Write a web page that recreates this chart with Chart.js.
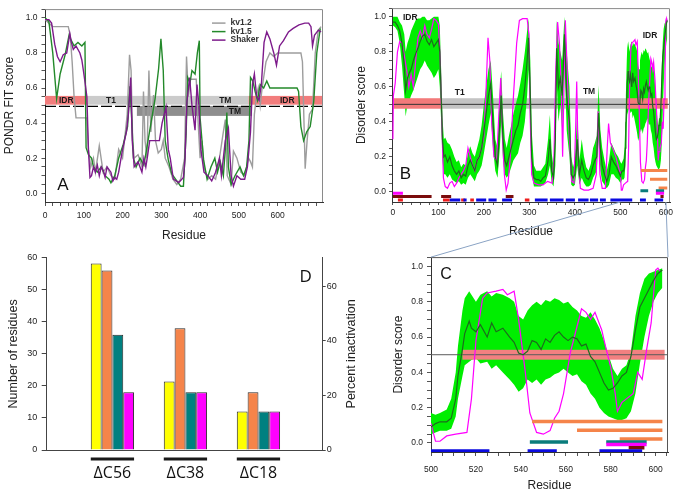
<!DOCTYPE html>
<html>
<head>
<meta charset="utf-8">
<title>Kv channel disorder profiles</title>
<script src="https://cdn.jsdelivr.net/npm/chart.js@4.4.1/dist/chart.umd.min.js"></script>
<style>
  html, body { margin: 0; padding: 0; background: #fff; }
  #page { position: relative; width: 679px; height: 496px; overflow: hidden; }
  .panel { position: absolute; }
  #overlay { position: absolute; left: 0; top: 0; pointer-events: none; }
</style>
</head>
<body>
<div id="page">
  <div class="panel" style="left:0;top:0;width:340px;height:248px"><canvas id="chartA"></canvas></div>
  <div class="panel" style="left:340px;top:0;width:339px;height:248px"><canvas id="chartB"></canvas></div>
  <div class="panel" style="left:0;top:248px;width:370px;height:248px"><canvas id="chartD"></canvas></div>
  <div class="panel" style="left:340px;top:248px;width:339px;height:248px"><canvas id="chartC"></canvas></div>
  <canvas id="overlay" width="679" height="496"></canvas>
</div>
<script>
// ---- panel A : PONDR FIT profiles ----
var kv12Res = [0,10,20,60,65,70,75,80,108,112,
	118,125,130,140,150,160,170,180,190,200,
	205,212,218,222,226,230,240,250,254,258,
	263,268,273,280,285,292,300,305,310,320,
	330,340,350,360,365,370,375,390,395,400,
	405,410,420,430,440,450,460,465,470,480,
	486,495,505,515,520,525,530,535,540,545,
	550,555,560,570,580,590,600,660,664,668,
	671,676,682,690,697,705,712];
var kv12Val = [0.99,0.97,0.95,0.95,0.90,0.75,0.55,0.43,0.43,0.25,
	0.15,0.20,0.12,0.27,0.12,0.15,0.10,0.08,0.25,0.20,
	0.30,0.45,0.79,0.70,0.30,0.20,0.22,0.15,0.58,0.30,
	0.20,0.70,0.35,0.56,0.30,0.23,0.25,0.30,0.20,0.15,
	0.08,0.05,0.08,0.20,0.78,0.55,0.65,0.65,0.40,0.20,
	0.30,0.15,0.08,0.10,0.08,0.20,0.35,0.42,0.10,0.05,
	0.24,0.20,0.12,0.10,0.15,0.20,0.18,0.15,0.45,0.55,
	0.60,0.50,0.60,0.75,0.80,0.78,0.80,0.80,0.75,0.40,
	0.14,0.30,0.45,0.48,0.80,0.93,0.95];

var kv15Res = [0,10,20,30,39,52,62,68,75,85,
	95,103,106,112,120,125,135,145,155,165,
	170,180,190,202,213,219,224,228,235,245,
	255,262,271,284,293,299,305,310,318,327,
	340,350,357,364,368,374,379,387,393,398,
	400,409,418,428,438,445,452,460,465,469,
	473,480,490,503,512,520,526,530,536,542,
	548,555,564,572,580,650,654,660,667,675,
	684,693,701,710];
var kv15Val = [1.00,0.98,0.80,0.54,0.68,0.79,0.90,0.87,0.84,0.86,
	0.84,0.86,0.26,0.22,0.20,0.15,0.12,0.15,0.10,0.08,
	0.06,0.10,0.20,0.28,0.38,0.61,0.41,0.20,0.15,0.20,
	0.16,0.25,0.37,0.54,0.71,0.88,0.70,0.30,0.19,0.11,
	0.07,0.04,0.04,0.34,0.66,0.63,0.70,0.68,0.80,0.87,
	0.43,0.19,0.08,0.15,0.20,0.12,0.18,0.10,0.25,0.46,
	0.15,0.05,0.10,0.15,0.10,0.15,0.30,0.66,0.64,0.58,
	0.53,0.62,0.60,0.64,0.60,0.60,0.58,0.38,0.30,0.35,
	0.38,0.52,0.80,0.94];

var shakerRes = [0,10,17,25,32,39,47,56,64,68,
	73,80,90,95,99,104,108,112,116,120,
	125,130,135,140,145,150,155,160,170,175,
	180,185,190,200,210,215,221,225,230,240,
	250,255,260,265,270,295,302,312,318,323,
	331,345,357,361,366,373,379,387,392,397,
	402,410,420,430,440,450,455,465,473,480,
	486,495,505,515,522,530,535,540,546,552,
	558,565,572,580,590,597,605,615,628,640,
	655,670,680,686,690,695,705,712];
var shakerVal = [0.99,0.99,0.97,0.85,0.78,0.75,0.79,0.80,0.91,0.86,
	0.82,0.84,0.80,0.76,0.70,0.62,0.55,0.25,0.09,0.10,
	0.15,0.12,0.16,0.10,0.15,0.13,0.09,0.15,0.12,0.07,
	0.09,0.08,0.12,0.25,0.35,0.45,0.66,0.30,0.15,0.18,
	0.12,0.20,0.15,0.22,0.30,0.30,0.40,0.49,0.25,0.20,
	0.08,0.06,0.09,0.19,0.52,0.66,0.50,0.36,0.62,0.50,
	0.25,0.12,0.10,0.07,0.12,0.20,0.10,0.30,0.37,0.10,
	0.04,0.10,0.08,0.08,0.15,0.35,0.62,0.68,0.55,0.53,
	0.62,0.86,0.92,0.88,0.80,0.73,0.84,0.87,0.92,0.94,
	0.96,0.97,0.97,0.95,0.84,0.90,0.93,0.92];

// domain spans (residues) for panel A
var domainIdrA = [[0,109],[525,717]];
var domainCoreA = [[109,525]];
var domainTmA = [[237,534]];

// ---- panels B and C : disorder consensus ----
var bandRes = [0,5,10,15,20,25,28,32,36,40,
	45,50,55,60,65,70,75,80,85,90,
	95,100,103,106,109,112,115,120,125,130,
	135,140,145,150,155,160,165,170,175,180,
	185,190,195,200,205,210,215,220,225,230,
	235,238,242,246,250,255,260,265,270,275,
	280,285,290,295,298,302,305,310,315,320,
	325,330,335,341,345,349,353,357,360,364,
	368,372,377,382,388,392,396,400,405,410,
	415,420,425,430,435,440,444,448,452,456,
	460,465,470,475,480,485,490,495,
	500,502,504,507,509,511,512,514,515,517,
	518,520,522,525,527,529,532,535,537,539,
	541,543,545,547,549,551,553,555,557,559,
	561,563,565,567,569,571,573,575,577,579,
	581,583,585,587,589,591,593,595,597,599,
	601,603];
var bandMean = [0.97,0.97,0.95,0.92,0.85,0.72,0.58,0.65,0.68,0.70,
	0.75,0.79,0.82,0.86,0.89,0.90,0.86,0.84,0.87,0.83,
	0.85,0.87,0.80,0.55,0.30,0.20,0.21,0.17,0.20,0.15,
	0.12,0.10,0.12,0.08,0.10,0.09,0.15,0.18,0.15,0.12,
	0.18,0.20,0.25,0.35,0.45,0.55,0.62,0.40,0.20,0.15,
	0.40,0.55,0.30,0.18,0.15,0.20,0.25,0.30,0.35,0.38,
	0.45,0.50,0.60,0.75,0.88,0.55,0.20,0.08,0.07,0.07,
	0.06,0.08,0.09,0.18,0.30,0.12,0.08,0.30,0.82,0.60,
	0.65,0.55,0.90,0.55,0.40,0.10,0.08,0.10,0.30,0.10,
	0.18,0.12,0.08,0.07,0.10,0.15,0.18,0.20,0.45,0.25,
	0.15,0.10,0.06,0.10,0.20,0.17,0.15,0.12,
	0.09,0.11,0.12,0.12,0.14,0.25,0.38,0.53,0.62,0.69,
	0.65,0.63,0.67,0.60,0.68,0.63,0.65,0.60,0.57,0.51,
	0.50,0.52,0.58,0.57,0.53,0.59,0.57,0.61,0.63,0.60,
	0.58,0.60,0.59,0.55,0.56,0.49,0.46,0.40,0.34,0.30,
	0.31,0.34,0.38,0.40,0.49,0.64,0.77,0.82,0.87,0.92,
	0.96,0.98];
var bandLow = [0.95,0.94,0.92,0.85,0.72,0.55,0.43,0.50,0.52,0.55,
	0.58,0.62,0.66,0.70,0.72,0.75,0.72,0.70,0.68,0.65,
	0.67,0.70,0.60,0.40,0.18,0.10,0.10,0.08,0.10,0.07,
	0.06,0.05,0.06,0.04,0.05,0.04,0.08,0.10,0.08,0.06,
	0.10,0.12,0.15,0.22,0.30,0.38,0.45,0.25,0.12,0.08,
	0.25,0.40,0.18,0.10,0.08,0.10,0.14,0.18,0.20,0.22,
	0.28,0.32,0.40,0.55,0.70,0.35,0.10,0.03,0.03,0.03,
	0.03,0.04,0.05,0.10,0.15,0.05,0.03,0.15,0.62,0.40,
	0.50,0.35,0.75,0.35,0.20,0.04,0.03,0.04,0.15,0.04,
	0.08,0.05,0.03,0.03,0.04,0.08,0.10,0.12,0.30,0.12,
	0.06,0.04,0.02,0.04,0.10,0.10,0.08,0.07,
	0.05,0.06,0.07,0.07,0.08,0.15,0.25,0.38,0.44,0.46,
	0.47,0.48,0.45,0.46,0.42,0.44,0.40,0.36,0.33,0.29,
	0.31,0.36,0.34,0.36,0.33,0.36,0.37,0.39,0.40,0.42,
	0.40,0.38,0.39,0.35,0.33,0.28,0.25,0.20,0.17,0.15,
	0.14,0.13,0.13,0.14,0.18,0.28,0.45,0.60,0.72,0.80,
	0.85,0.88];
var bandHigh = [1.00,1.00,1.00,0.97,0.95,0.90,0.80,0.85,0.88,0.92,
	0.95,0.98,0.99,0.99,1.00,1.00,0.98,0.98,0.99,1.00,
	1.00,1.00,0.95,0.70,0.42,0.30,0.31,0.28,0.27,0.24,
	0.20,0.17,0.18,0.14,0.16,0.15,0.22,0.26,0.22,0.20,
	0.25,0.30,0.38,0.50,0.60,0.70,0.75,0.55,0.30,0.25,
	0.58,0.69,0.45,0.30,0.25,0.32,0.38,0.45,0.50,0.55,
	0.62,0.70,0.80,0.92,0.99,0.75,0.35,0.15,0.12,0.12,
	0.12,0.14,0.16,0.30,0.44,0.22,0.14,0.50,0.98,0.85,
	0.80,0.75,1.00,0.80,0.60,0.20,0.14,0.18,0.46,0.18,
	0.30,0.20,0.14,0.12,0.16,0.25,0.28,0.32,0.61,0.35,
	0.25,0.18,0.12,0.18,0.28,0.25,0.22,0.20,
	0.17,0.16,0.17,0.19,0.25,0.40,0.55,0.75,0.82,0.86,
	0.84,0.80,0.84,0.86,0.83,0.85,0.84,0.82,0.80,0.72,
	0.70,0.75,0.78,0.80,0.78,0.81,0.80,0.82,0.81,0.79,
	0.80,0.77,0.75,0.72,0.71,0.74,0.70,0.65,0.58,0.50,
	0.42,0.38,0.42,0.44,0.52,0.72,0.85,0.93,0.96,0.97,
	0.98,0.99];

var magRes = [0,1,5,10,15,20,25,30,35,40,
	45,50,55,60,65,70,75,80,85,90,
	95,100,104,108,111,115,120,125,130,135,
	140,145,150,155,160,165,170,175,180,185,
	190,195,200,205,209,213,217,222,228,233,
	237,241,245,249,253,258,265,272,278,285,
	295,299,302,305,310,320,330,340,350,354,
	358,362,366,370,373,376,379,383,388,393,
	398,402,404,407,412,420,430,440,447,451,
	455,460,467,471,474,478,483,490,495,498,
	500,502,504,507,511,516,518,520,523,525,
	529,532,534,537,539,542,544,547,550,553,
	555,557,559,562,565,567,569,571,573,576,
	578,580,582,583,585,587,590,592,594,596,
	598,600,601,602];
var magVal = [0.30,0.55,0.62,0.80,0.86,0.85,0.78,0.70,0.60,0.67,
	0.60,0.75,0.88,0.92,0.88,0.95,0.90,0.88,0.93,0.99,
	0.98,0.96,0.75,0.35,0.08,0.03,0.02,0.05,0.06,0.03,
	0.05,0.08,0.10,0.12,0.15,0.25,0.20,0.15,0.12,0.18,
	0.20,0.25,0.32,0.60,0.88,0.75,0.40,0.20,0.18,0.45,
	0.65,0.30,0.10,0.01,0.05,0.20,0.55,0.85,0.98,0.99,
	0.99,0.90,0.40,0.10,0.05,0.04,0.04,0.06,0.05,0.20,
	0.70,0.97,0.85,0.60,0.20,0.60,0.98,0.70,0.30,0.06,
	0.05,0.40,0.63,0.20,0.02,0.01,0.01,0.02,0.10,0.46,
	0.10,0.02,0.02,0.25,0.39,0.28,0.25,0.20,0.15,0.12,
	0.11,0.01,0.01,0.04,0.05,0.06,0.25,0.58,0.82,0.85,
	0.86,0.87,0.84,0.86,0.70,0.40,0.17,0.06,0.05,0.07,
	0.14,0.18,0.28,0.51,0.66,0.76,0.74,0.70,0.74,0.64,
	0.53,0.43,0.28,0.18,0.23,0.25,0.28,0.40,0.36,0.53,
	0.68,0.98,0.99,0.97];

// annotated residue ranges drawn as tracks under the profile
var blueRanges = [[125,148],[155,162],[183,205],[210,228],[240,262],[312,340],[345,375],[380,400],
	[407,430],[433,451],[455,468],[478,526],[543,556],[575,594]];
var redRanges = [[11,22],[110,125],[150,158],[170,178],[290,300]];
var maroonRanges = [[0,85],[106,128],[248,265],[588,595]];
var magentaRanges = [[0,22],[578,596]];
var tealRanges = [[544,561],[578,596]];
var orangeRanges = [[545,603],[565,603],[584,603]];

var domainIdrB = [[0,106],[514,604]];
var domainCoreB = [[106,514]];

// ---- panel D ----
var groups = ['\u0394C56', '\u0394C38', '\u0394C18'];
var yellowVals = [58.2, 21.4, 12];
var orangeVals = [56, 38, 18];
var tealVals = [36, 18, 12];
var magentaVals = [18, 18, 12];

Chart.defaults.font.family = "'Liberation Sans', Arial, sans-serif";
Chart.defaults.color = '#222';

function steps(a, b, s) {
	var out = [];
	for (var v = a; v <= b + 1e-9; v += s) out.push({ value: Math.round(v * 1000) / 1000 });
	return out;
}
function pts(res, val) {
	return res.map(function (r, i) { return { x: r, y: val[i] }; });
}
function trackPts(ranges, level) {
	var out = [];
	ranges.forEach(function (r) {
		out.push({ x: r[0], y: level }, { x: r[1], y: level }, { x: r[1], y: null });
	});
	return out;
}
function scoreLabel(v) {
	var k = Math.round(v * 100);
	return (k >= 0 && k % 20 === 0) ? (k / 100).toFixed(1) : '';
}

function residueAxis(o) {
	return {
		type: 'linear', min: o.min, max: o.max,
		afterBuildTicks: function (s) { s.ticks = steps(o.t0, o.t1, o.step); },
		afterFit: function (s) { s.height = o.h; },
		ticks: {
			autoSkip: false, maxRotation: 0, font: { size: 8.5 }, color: '#222', padding: o.pad,
			callback: function (v) { return (v % o.every === 0 && v <= o.last) ? v : ''; }
		},
		grid: { drawOnChartArea: false, tickLength: o.tl, color: '#555' },
		border: { color: '#333' },
		title: { display: true, text: 'Residue', font: { size: 12 }, color: '#222', padding: { top: 0, bottom: o.tpad } }
	};
}
function scoreAxis(o) {
	return {
		type: 'linear', min: o.min, max: o.max,
		afterBuildTicks: function (s) { s.ticks = steps(0, 1.05, 0.05); },
		afterFit: function (s) { s.width = o.w; },
		ticks: { autoSkip: false, font: { size: 8.5 }, color: '#222', padding: o.pad, callback: scoreLabel },
		grid: { drawOnChartArea: false, tickLength: o.tl, color: '#555' },
		border: { color: '#333' },
		title: { display: true, text: o.title, font: { size: 12 }, color: '#222', padding: { top: o.tpad, bottom: 0 } }
	};
}

function line(label, data, color, width, order) {
	return { label: label, data: data, borderColor: color, backgroundColor: color, borderWidth: width,
		pointRadius: 0, tension: 0, fill: false, order: order };
}

// shared helpers for drawing on a chart
function fillSpans(chart, ranges, lo, hi, color) {
	var x = chart.scales.x, y = chart.scales.y, ctx = chart.ctx;
	ranges.forEach(function (r) {
		var x0 = x.getPixelForValue(r[0]), x1 = x.getPixelForValue(r[1]);
		var y0 = y.getPixelForValue(hi), y1 = y.getPixelForValue(lo);
		ctx.fillStyle = color;
		ctx.fillRect(x0, y0, x1 - x0, y1 - y0);
	});
}
function clipArea(chart) {
	var a = chart.chartArea;
	chart.ctx.beginPath();
	chart.ctx.rect(a.left, a.top, a.right - a.left, a.bottom - a.top);
	chart.ctx.clip();
}
function hLine(chart, v, color) {
	var a = chart.chartArea, ctx = chart.ctx, py = chart.scales.y.getPixelForValue(v);
	ctx.strokeStyle = color; ctx.lineWidth = 1;
	ctx.beginPath(); ctx.moveTo(a.left, py); ctx.lineTo(a.right, py); ctx.stroke();
}
function frameTopRight(chart, color) {
	var a = chart.chartArea, ctx = chart.ctx;
	ctx.save();
	ctx.strokeStyle = color; ctx.lineWidth = 1;
	ctx.beginPath();
	ctx.moveTo(a.left, a.top + 0.5); ctx.lineTo(a.right - 0.5, a.top + 0.5); ctx.lineTo(a.right - 0.5, a.bottom);
	ctx.stroke();
	ctx.restore();
}
function textAt(chart, list, font) {
	var ctx = chart.ctx, x = chart.scales.x, y = chart.scales.y;
	ctx.font = font; ctx.fillStyle = '#1a1a1a'; ctx.textAlign = 'center'; ctx.textBaseline = 'middle';
	list.forEach(function (t) { ctx.fillText(t[0], x.getPixelForValue(t[1]), y.getPixelForValue(t[2])); });
}
function letter(chart, ch, px, py, font) {
	var ctx = chart.ctx;
	ctx.save();
	ctx.font = font; ctx.fillStyle = '#111'; ctx.textAlign = 'center'; ctx.textBaseline = 'middle';
	ctx.fillText(ch, px, py);
	ctx.restore();
}

// ---------------- Panel A ----------------
var annotA = {
	id: 'annotA',
	beforeDatasetsDraw: function (chart) {
		var ctx = chart.ctx, a = chart.chartArea, y = chart.scales.y;
		ctx.save();
		clipArea(chart);
		fillSpans(chart, domainCoreA, 0.505, 0.555, '#cbcbcb');
		fillSpans(chart, domainTmA, 0.441, 0.497, '#8e8e8e');
		fillSpans(chart, domainIdrA, 0.505, 0.555, '#f27d7d');
		ctx.strokeStyle = '#000'; ctx.lineWidth = 1.2; ctx.setLineDash([11, 3]);
		ctx.beginPath();
		ctx.moveTo(a.left, y.getPixelForValue(0.495)); ctx.lineTo(a.right, y.getPixelForValue(0.495));
		ctx.stroke();
		ctx.setLineDash([]);
		textAt(chart, [['IDR', 55, 0.53], ['T1', 170, 0.527], ['TM', 465, 0.527], ['TM', 490, 0.466], ['IDR', 625, 0.53]],
			'bold 8.5px "Liberation Sans", Arial, sans-serif');
		ctx.restore();
	},
	afterDatasetsDraw: function (chart) {
		var ctx = chart.ctx, a = chart.chartArea;
		frameTopRight(chart, '#8a8a8a');
		// legend inside plot
		ctx.save();
		ctx.font = 'bold 8.5px "Liberation Sans", Arial, sans-serif';
		ctx.textAlign = 'left'; ctx.textBaseline = 'middle';
		chart.data.datasets.forEach(function (ds, i) {
			var yy = a.top + 14 + i * 8.5;
			ctx.strokeStyle = ds.borderColor; ctx.lineWidth = 1.5;
			ctx.beginPath(); ctx.moveTo(a.right - 111, yy); ctx.lineTo(a.right - 97.5, yy); ctx.stroke();
			ctx.fillStyle = '#333';
			ctx.fillText(ds.label, a.right - 92.5, yy);
		});
		ctx.restore();
		letter(chart, 'A', a.left + 18, a.bottom - 16.5, '17px "Liberation Sans", Arial, sans-serif');
	}
};

var chartA = new Chart(document.getElementById('chartA'), {
	type: 'line',
	data: {
		datasets: [
			line('kv1.2', pts(kv12Res, kv12Val), '#9d9d9d', 1.4, 3),
			line('kv1.5', pts(kv15Res, kv15Val), '#23892a', 1.4, 2),
			line('Shaker', pts(shakerRes, shakerVal), '#7d1a8b', 1.4, 1)
		]
	},
	options: {
		responsive: true, maintainAspectRatio: false, animation: false, events: [],
		layout: { padding: { top: 7, right: 17, left: 0, bottom: 0 } },
		plugins: { legend: { display: false }, tooltip: { enabled: false } },
		scales: {
			x: residueAxis({ min: 0, max: 717, t0: 0, t1: 700, step: 20, every: 100, last: 600, h: 46, pad: 4.5, tl: 4, tpad: 5.3 }),
			y: scoreAxis({ min: -0.05, max: 1.05, w: 45, pad: 4, tl: 3.5, tpad: 2.8, title: 'PONDR FIT score' })
		}
	},
	plugins: [annotA]
});

// ---------------- Panels B and C ----------------
var trackLevels = { blue: -0.046, maroon: -0.027, magenta: -0.008, teal: 0.006, orange: [0.122, 0.072, 0.022] };
var BAND_HIGH = 1; // index of the upper band dataset (its fill closes the band)

function disorderSets(trackWidth) {
	var tw = trackWidth;
	var sets = [
		{ label: 'low', data: pts(bandRes, bandLow), borderWidth: 0, pointRadius: 0, fill: false, order: 6 },
		{ label: 'high', data: pts(bandRes, bandHigh), borderWidth: 0, pointRadius: 0, fill: '-1',
			backgroundColor: '#00ee00', order: 5 },
		line('Shaker', pts(magRes, magVal), '#ff00ff', 1.2, 3),
		line('Mean', pts(bandRes, bandMean), '#1d6b1d', 1.2, 2)
	];
	function track(data, color) {
		var t = line('track', data, color, tw, 1);
		t.borderCapStyle = 'butt';
		sets.push(t);
	}
	track(trackPts(blueRanges, trackLevels.blue), '#0a0ae0');
	track(trackPts(redRanges, trackLevels.blue), '#ee1c1c');
	track(trackPts(maroonRanges, trackLevels.maroon), '#7a0c0c');
	track(trackPts(magentaRanges, trackLevels.magenta), '#ff00ff');
	track(trackPts(tealRanges, trackLevels.teal), '#0a7c7c');
	orangeRanges.forEach(function (r, i) { track(trackPts([r], trackLevels.orange[i]), '#f5844a'); });
	return sets;
}

var annotB = {
	id: 'annotB',
	beforeDatasetsDraw: function (chart) {
		chart.ctx.save();
		clipArea(chart);
		fillSpans(chart, domainCoreB, 0.475, 0.535, '#c3c3c3');
		chart.ctx.restore();
	},
	afterDatasetDraw: function (chart, args) {
		if (args.index !== BAND_HIGH) return;
		chart.ctx.save();
		clipArea(chart);
		fillSpans(chart, domainIdrB, 0.475, 0.535, '#f27a7a');
		hLine(chart, 0.5, '#333');
		chart.ctx.restore();
	},
	afterDatasetsDraw: function (chart) {
		var a = chart.chartArea;
		chart.ctx.save();
		textAt(chart, [['IDR', 38, 0.995], ['T1', 147, 0.565], ['TM', 431, 0.57], ['IDR', 565, 0.895]],
			'bold 8.5px "Liberation Sans", Arial, sans-serif');
		chart.ctx.restore();
		frameTopRight(chart, '#8a8a8a');
		letter(chart, 'B', a.left + 13.5, a.bottom - 28, '17px "Liberation Sans", Arial, sans-serif');
	}
};

var chartB = new Chart(document.getElementById('chartB'), {
	type: 'line',
	data: { datasets: disorderSets(3) },
	options: {
		responsive: true, maintainAspectRatio: false, animation: false, events: [],
		layout: { padding: { top: 5, right: 9, left: 0, bottom: 0 } },
		plugins: { legend: { display: false }, tooltip: { enabled: false } },
		scales: {
			x: residueAxis({ min: -2, max: 609, t0: 0, t1: 600, step: 20, every: 100, last: 600, h: 46, pad: 3, tl: 3, tpad: 9 }),
			y: scoreAxis({ min: -0.058, max: 1.05, w: 52, pad: 3, tl: 3, tpad: 14.5, title: 'Disorder score' })
		}
	},
	plugins: [annotB]
});

var annotC = {
	id: 'annotC',
	afterDatasetDraw: function (chart, args) {
		if (args.index !== BAND_HIGH) return;
		chart.ctx.save();
		clipArea(chart);
		fillSpans(chart, domainIdrB, 0.472, 0.528, '#f28080');
		hLine(chart, 0.5, '#5a5a5a');
		chart.ctx.restore();
	},
	afterDatasetsDraw: function (chart) {
		var a = chart.chartArea;
		frameTopRight(chart, '#555');
		letter(chart, 'C', a.left + 15, a.top + 17, '16px "Liberation Sans", Arial, sans-serif');
	}
};

var chartC = new Chart(document.getElementById('chartC'), {
	type: 'line',
	data: { datasets: disorderSets(3.5) },
	options: {
		responsive: true, maintainAspectRatio: false, animation: false, events: [],
		layout: { padding: { top: 9, right: 11, left: 0, bottom: 0 } },
		plugins: { legend: { display: false }, tooltip: { enabled: false } },
		scales: {
			x: residueAxis({ min: 500, max: 605.5, t0: 500, t1: 605, step: 5, every: 20, last: 600, h: 44, pad: 8.5, tl: 4, tpad: 3 }),
			y: scoreAxis({ min: -0.051, max: 1.053, w: 91, pad: 4, tl: 4, tpad: 51, title: 'Disorder score' })
		}
	},
	plugins: [annotC]
});

// ---------------- Panel D ----------------
function barPts(vals) {
	return vals.map(function (v, i) { return { x: i + 1, y: v }; });
}

var annotD = {
	id: 'annotD',
	afterDatasetsDraw: function (chart) {
		var ctx = chart.ctx, a = chart.chartArea;
		var first = chart.getDatasetMeta(0).data, last = chart.getDatasetMeta(chart.data.datasets.length - 1).data;
		ctx.save();
		ctx.fillStyle = '#1a1a1a';
		first.forEach(function (bar, i) {
			var l = bar.x - bar.width / 2, r = last[i].x + last[i].width / 2;
			ctx.fillRect(l, a.bottom + 7.5, r - l, 3);
		});
		// right axis title reads bottom-to-top like the left one
		ctx.translate(352, (a.top + a.bottom) / 2);
		ctx.rotate(-Math.PI / 2);
		ctx.font = '12.5px "Liberation Sans", Arial, sans-serif';
		ctx.fillStyle = '#222'; ctx.textAlign = 'center'; ctx.textBaseline = 'middle';
		ctx.fillText('Percent inactivation', 0, 0);
		ctx.restore();
		letter(chart, 'D', a.right - 17, a.top + 19, '17px "Open Sans", "Liberation Sans", sans-serif');
	}
};

var chartD = new Chart(document.getElementById('chartD'), {
	type: 'bar',
	data: {
		datasets: [
			{ label: 'Yellow', data: barPts(yellowVals), backgroundColor: '#ffff00' },
			{ label: 'Orange', data: barPts(orangeVals), backgroundColor: '#f5844a' },
			{ label: 'Teal', data: barPts(tealVals), backgroundColor: '#008080' },
			{ label: 'Magenta', data: barPts(magentaVals), backgroundColor: '#ff00ff' }
		]
	},
	options: {
		responsive: true, maintainAspectRatio: false, animation: false, events: [],
		layout: { padding: { top: 8, right: 0, left: 0, bottom: 0 } },
		datasets: { bar: { categoryPercentage: 0.593, barPercentage: 1, borderWidth: 1, borderColor: '#2a2a2a' } },
		plugins: { legend: { display: false }, tooltip: { enabled: false } },
		scales: {
			x: {
				type: 'linear', min: 0.1, max: 3.88, offset: false,
				afterBuildTicks: function (s) { s.ticks = groups.map(function (g, i) { return { value: i + 1 }; }); },
				afterFit: function (s) { s.height = 46; },
				ticks: { autoSkip: false, maxRotation: 0, padding: 13.5, color: '#111',
					font: { family: "'Open Sans', 'DejaVu Sans', sans-serif", size: 16 },
					callback: function (v) { return groups[v - 1]; } },
				grid: { display: true, drawOnChartArea: false, drawTicks: false },
				border: { color: '#444' }
			},
			y: {
				position: 'left', min: 0, max: 60,
				afterBuildTicks: function (s) { s.ticks = steps(0, 60, 10); },
				afterFit: function (s) { s.width = 46.7; },
				ticks: { font: { size: 9 }, color: '#222', padding: 4.4 },
				grid: { drawOnChartArea: false, tickLength: 5, color: '#444' },
				border: { color: '#444' },
				title: { display: true, text: 'Number of residues', font: { size: 12.5 }, color: '#222', padding: { top: 5.8, bottom: 0 } }
			},
			y2: {
				position: 'right', min: 0, max: 70.5,
				afterBuildTicks: function (s) { s.ticks = steps(0, 60, 20); },
				afterFit: function (s) { s.width = 47.3; },
				ticks: { font: { size: 9 }, color: '#222', padding: 1 },
				grid: { drawOnChartArea: false, tickLength: 3, color: '#444' },
				border: { color: '#444' }
			}
		}
	},
	plugins: [annotD]
});

// zoom connector from panel B (500-600) down to panel C
var ov = document.getElementById('overlay').getContext('2d');
ov.strokeStyle = '#8aa3c4';
ov.lineWidth = 1;
ov.beginPath();
ov.moveTo(340 + chartB.scales.x.getPixelForValue(500), chartB.chartArea.bottom);
ov.lineTo(340 + chartC.chartArea.left, 248 + chartC.chartArea.top);
ov.moveTo(340 + chartB.scales.x.getPixelForValue(600), chartB.chartArea.bottom);
ov.lineTo(340 + chartC.chartArea.right, 248 + chartC.chartArea.top);
ov.stroke();
</script>
</body>
</html>
